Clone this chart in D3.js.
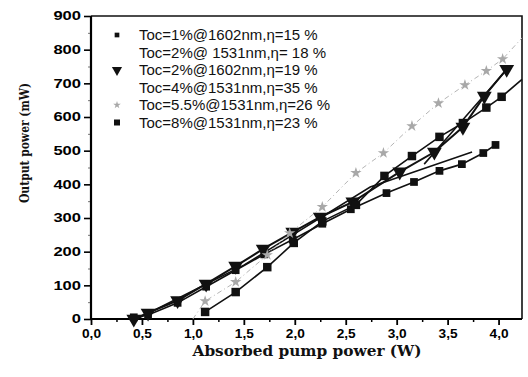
<!DOCTYPE html>
<html>
<head>
<meta charset="utf-8">
<script src="https://cdn.jsdelivr.net/npm/d3@7"></script>
<style>
  body { margin: 0; background: #fff; }
  .tick text { font-family: "Liberation Sans", Arial, sans-serif; font-weight: bold; }
</style>
</head>
<body>
<div id="chart"></div>
<script>
// tick values
var xTicks = [0, 0.5, 1.0, 1.5, 2.0, 2.5, 3.0, 3.5, 4.0];
var yTicks = [0, 100, 200, 300, 400, 500, 600, 700, 800, 900];

// Toc=1%@1602nm (small squares)
var s1x = [0.42, 0.56, 0.85, 1.13, 1.42, 1.70, 1.98, 2.27, 2.55, 2.90, 3.17, 3.42, 3.64, 3.85, 3.97];
var s1y = [5, 12, 48, 96, 145, 192, 236, 283, 326, 374, 407, 440, 460, 493, 517];
// Toc=2%@1531nm (line only)
var s2x = [0.45, 1.5, 2.74, 3.74];
var s2y = [0, 160, 392, 496];
// Toc=2%@1602nm (triangles)
var s3x = [0.42, 0.56, 0.85, 1.13, 1.42, 1.69, 1.98, 2.25, 2.57, 3.03, 3.37, 3.65, 3.86, 4.08];
var s3y = [0, 18, 55, 104, 157, 208, 258, 303, 348, 437, 496, 570, 662, 742];
// Toc=4%@1531nm (line only)
var s4x = [3.27, 3.6, 4.1];
var s4y = [460, 575, 748];
// Toc=5.5%@1531nm (grey stars)
var s5x = [1.12, 1.42, 1.73, 1.95, 2.27, 2.60, 2.87, 3.15, 3.41, 3.67, 3.88, 4.04];
var s5y = [53, 110, 190, 255, 333, 434, 493, 573, 641, 695, 737, 772];
var s5lineX = [1.0].concat(s5x, [4.23]);
var s5lineY = [0].concat(s5y, [835]);
// Toc=8%@1531nm (squares)
var s6x = [1.12, 1.42, 1.73, 1.99, 2.27, 2.60, 2.88, 3.15, 3.42, 3.65, 3.88, 4.03];
var s6y = [21, 80, 154, 226, 290, 339, 425, 484, 541, 582, 628, 660];
var s6lineX = s6x.concat([4.23]);
var s6lineY = s6y.concat([712]);

var names = [
  "Toc=1%@1602nm,η=15 %",
  "Toc=2%@ 1531nm,η= 18 %",
  "Toc=2%@1602nm,η=19 %",
  "Toc=4%@1531nm,η=35 %",
  "Toc=5.5%@1531nm,η=26 %",
  "Toc=8%@1531nm,η=23 %"
];

var series = [
  {lx: s1x, ly: s1y, mx: s1x, my: s1y, sym: d3.symbolSquare, size: 60, leg: 22, fill: "#111", stroke: "#111", w: 1.6, dash: null},
  {lx: s2x, ly: s2y, mx: [], my: [], sym: null, fill: "#111", stroke: "#111", w: 1.5, dash: null},
  {lx: s3x, ly: s3y, mx: s3x, my: s3y, sym: d3.symbolTriangle, rot: 180, size: 95, leg: 45, fill: "#111", stroke: "#111", w: 2, dash: null},
  {lx: s4x, ly: s4y, mx: [], my: [], sym: null, fill: "#111", stroke: "#111", w: 1.6, dash: null},
  {lx: s5lineX, ly: s5lineY, mx: s5x, my: s5y, sym: d3.symbolStar, size: 40, leg: 18, fill: "#a8a8a8", stroke: "#b5b5b5", w: 1, dash: "5,3,1,3"},
  {lx: s6lineX, ly: s6lineY, mx: s6x, my: s6y, sym: d3.symbolSquare, size: 72, leg: 36, fill: "#111", stroke: "#111", w: 1.6, dash: null}
];

var width = 528, height = 377;

var svg = d3.select("#chart").append("svg")
    .attr("width", width)
    .attr("height", height);

var x = d3.scaleLinear().domain([0, 4.23]).range([91, 522]);
var y = d3.scaleLinear().domain([0, 900]).range([319, 16]);

// frame top/right
svg.append("path")
    .attr("d", "M" + x(0) + "," + y(900) + "H" + x(4.23) + "V" + y(0))
    .attr("fill", "none")
    .attr("stroke", "#111")
    .attr("stroke-width", 1.6);

// minor ticks
svg.append("g")
    .attr("transform", "translate(0," + y(0) + ")")
    .call(d3.axisBottom(x).tickValues(d3.range(0.25, 4.2, 0.5)).tickSize(3).tickFormat(""))
    .call(function(g) { g.select(".domain").remove(); g.selectAll("line").attr("stroke-width", 1.5); });
svg.append("g")
    .attr("transform", "translate(" + x(0) + ",0)")
    .call(d3.axisLeft(y).tickValues(d3.range(50, 900, 100)).tickSize(3).tickFormat(""))
    .call(function(g) { g.select(".domain").remove(); g.selectAll("line").attr("stroke", "#777"); });

var xAxis = svg.append("g")
    .attr("transform", "translate(0," + y(0) + ")")
    .call(d3.axisBottom(x).tickValues(xTicks).tickSize(6).tickPadding(4)
      .tickFormat(function(d) { return d3.format(".1f")(d).replace(".", ","); }));
xAxis.select(".domain").attr("stroke-width", 2.2).attr("d", "M" + x(0) + ",0H" + x(4.23));
xAxis.selectAll("line").attr("stroke-width", 1.8);
xAxis.selectAll("text")
    .attr("font-size", 12)
    .attr("fill", "#000")
    .attr("textLength", 19)
    .attr("lengthAdjust", "spacingAndGlyphs");

var yAxis = svg.append("g")
    .attr("transform", "translate(" + x(0) + ",0)")
    .call(d3.axisLeft(y).tickValues(yTicks).tickSize(7).tickPadding(3));
yAxis.select(".domain").attr("stroke-width", 2.2).attr("d", "M0," + y(0) + "V" + y(900));
yAxis.selectAll("line").attr("stroke-width", 1.6);
yAxis.selectAll("text")
    .attr("font-size", 12)
    .attr("fill", "#000")
    .attr("textLength", function(d) { return String(d).length * 9.2; })
    .attr("lengthAdjust", "spacingAndGlyphs");

// series lines
var line = d3.line()
    .x(function(d) { return x(d[0]); })
    .y(function(d) { return y(d[1]); });

series.forEach(function(s) {
  svg.append("path")
      .datum(d3.zip(s.lx, s.ly))
      .attr("d", line)
      .attr("fill", "none")
      .attr("stroke", s.stroke)
      .attr("stroke-width", s.w)
      .attr("stroke-dasharray", s.dash);
});

// markers
series.forEach(function(s) {
  if (!s.sym) return;
  svg.append("g").selectAll("path")
      .data(d3.zip(s.mx, s.my))
      .enter().append("path")
      .attr("d", d3.symbol().type(s.sym).size(s.size))
      .attr("transform", function(d) {
        return "translate(" + x(d[0]) + "," + y(d[1]) + ")" + (s.rot ? " rotate(" + s.rot + ")" : "");
      })
      .attr("fill", s.fill);
});

// legend
var legend = svg.append("g").selectAll(".leg")
    .data(series)
    .enter().append("g")
    .attr("class", "leg")
    .attr("transform", function(d, i) { return "translate(117," + (35 + i * 17.5) + ")"; });

legend.filter(function(d) { return d.sym; }).append("path")
    .attr("d", function(d) { return d3.symbol().type(d.sym).size(d.leg)(); })
    .attr("transform", function(d) { return d.rot ? "rotate(" + d.rot + ")" : null; })
    .attr("fill", function(d) { return d.fill; });

legend.append("text")
    .attr("x", 22)
    .attr("y", 5)
    .attr("font-family", "'Liberation Sans', Arial, sans-serif")
    .attr("font-size", 15)
    .attr("fill", "#111")
    .text(function(d, i) { return names[i]; });

// axis titles
svg.append("text")
    .attr("x", 307)
    .attr("y", 356)
    .attr("text-anchor", "middle")
    .attr("font-family", "'DejaVu Serif', serif")
    .attr("font-weight", "bold")
    .attr("font-size", 14)
    .attr("textLength", 229)
    .attr("lengthAdjust", "spacingAndGlyphs")
    .attr("fill", "#111")
    .text("Absorbed pump power (W)");

svg.append("text")
    .attr("transform", "translate(29,143) rotate(-90)")
    .attr("text-anchor", "middle")
    .attr("font-family", "'DejaVu Serif', serif")
    .attr("font-weight", "bold")
    .attr("font-size", 12)
    .attr("textLength", 120)
    .attr("lengthAdjust", "spacingAndGlyphs")
    .attr("fill", "#111")
    .text("Output power (mW)");
</script>
</body>
</html>
